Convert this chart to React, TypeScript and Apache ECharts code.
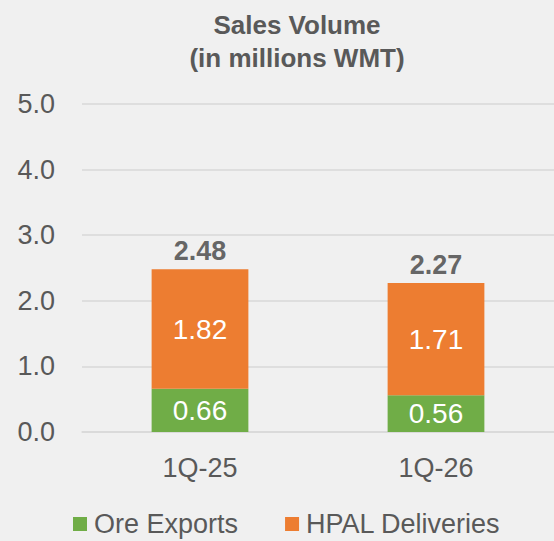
import React, { useEffect, useRef } from "react";
import * as echarts from "echarts";

const categories = ["1Q-25", "1Q-26"];
const oreExports = [0.66, 0.56];
const hpalDeliveries = [1.82, 1.71];
const totals = [2.48, 2.27];
const seriesNames = ["Ore Exports", "HPAL Deliveries"];
const titleLines = ["Sales Volume", "(in millions WMT)"];

const FONT = "'Liberation Sans', Arial, sans-serif";
const GREY = "#595959";

export default function App() {
  const ref = useRef<HTMLDivElement>(null);
  useEffect(() => {
    document.body.style.margin = "0";
    const chart = echarts.init(ref.current!, null, { renderer: "svg" });
    chart.setOption({
      animation: false,
      backgroundColor: "#f0f0f0",
      textStyle: { fontFamily: FONT },
      title: {
        text: titleLines.join("\n"),
        left: 292,
        top: 3,
        textAlign: "center",
        textStyle: {
          fontFamily: FONT,
          fontSize: 26,
          fontWeight: "bold",
          color: "#595959",
          lineHeight: 33,
        },
      },
      legend: {
        data: seriesNames,
        left: 73,
        top: 510,
        padding: 0,
        itemWidth: 14,
        itemHeight: 14,
        itemGap: 47,
        icon: "rect",
        textStyle: {
          fontFamily: FONT,
          fontSize: 27,
          lineHeight: 28,
          color: GREY,
          padding: [0, 0, 0, 2],
        },
      },
      grid: { left: 82, right: 0, top: 104, bottom: 109, containLabel: false },
      xAxis: {
        type: "category",
        data: categories,
        axisLine: { show: true, lineStyle: { color: "#d9d9d9", width: 1.5 } },
        axisTick: { show: false },
        axisLabel: { fontFamily: FONT, fontSize: 27, color: GREY, margin: 22 },
      },
      yAxis: {
        type: "value",
        min: 0,
        max: 5,
        interval: 1,
        axisLine: { show: false },
        axisTick: { show: false },
        splitLine: { lineStyle: { color: "#d9d9d9", width: 1.5 } },
        axisLabel: {
          fontFamily: FONT,
          fontSize: 27,
          color: GREY,
          margin: 27,
          formatter: (v: number) => v.toFixed(1),
        },
      },
      series: [
        {
          name: seriesNames[0],
          type: "bar",
          stack: "total",
          data: oreExports,
          barWidth: "41%",
          itemStyle: { color: "#70ad47" },
          label: {
            show: true,
            position: "inside",
            color: "#ffffff",
            fontFamily: FONT,
            fontSize: 28,
            formatter: (p: any) => p.value.toFixed(2),
          },
        },
        {
          name: seriesNames[1],
          type: "bar",
          stack: "total",
          data: hpalDeliveries,
          barWidth: "41%",
          itemStyle: { color: "#ed7d31" },
          label: {
            show: true,
            position: "inside",
            color: "#ffffff",
            fontFamily: FONT,
            fontSize: 28,
            formatter: (p: any) => p.value.toFixed(2),
          },
        },
        {
          name: "Total",
          type: "scatter",
          data: totals,
          symbolSize: 0,
          silent: true,
          label: {
            show: true,
            position: "top",
            distance: 5,
            color: "#404040",
            fontFamily: FONT,
            fontSize: 27,
            fontWeight: "bold",
            formatter: (p: any) => p.value.toFixed(2),
          },
        },
      ],
    });
    return () => chart.dispose();
  }, []);
  return <div ref={ref} style={{ width: 554, height: 541 }} />;
}
